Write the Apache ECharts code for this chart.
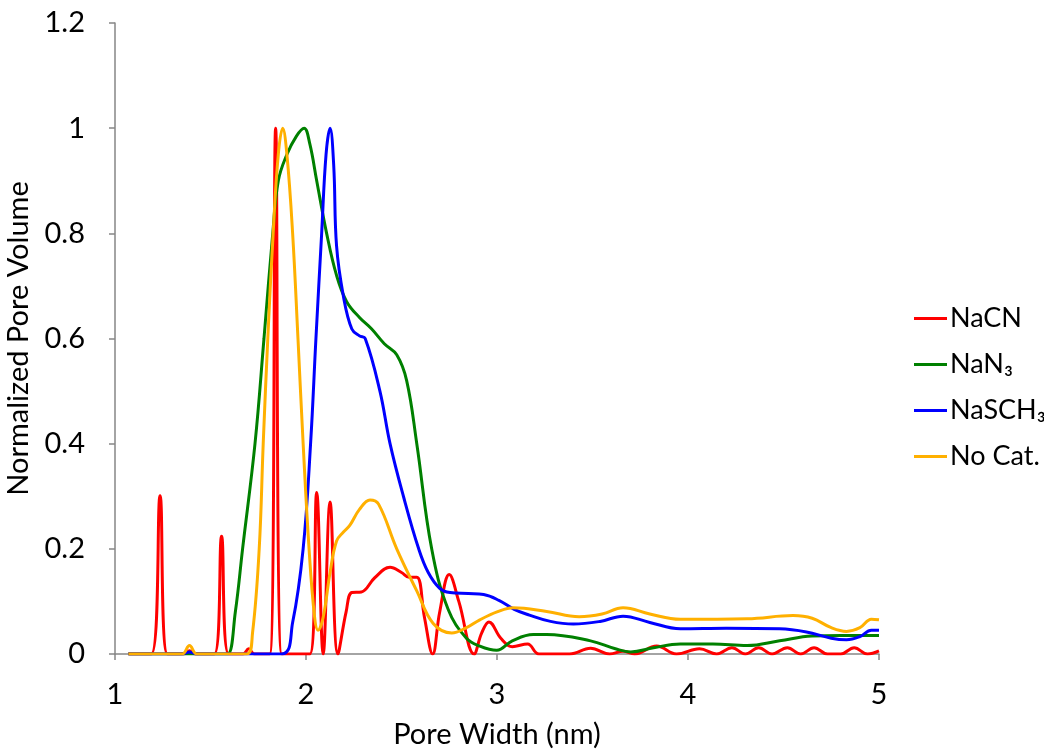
<!DOCTYPE html>
<html lang="en">
<head>
    <meta charset="UTF-8">
    <title>Pore Width Distribution</title>
    <script src="https://cdn.jsdelivr.net/npm/echarts@6/dist/echarts.min.js"></script>
    <style>
        body { margin: 0; background: #fff; }
        #chart { width: 1044px; height: 750px; }
    </style>
</head>
<body>
    <div id="chart"></div>
    <script>
        // data
        const seriesNames = ['NaCN', 'NaN\u2083', 'NaSCH\u2083', 'No Cat.'];
        const xTicks = [1, 2, 3, 4, 5];
        const yTicks = [0, 0.2, 0.4, 0.6, 0.8, 1, 1.2];

        const nacnX = [1.07, 1.19, 1.236, 1.275, 1.36, 1.39, 1.42, 1.52, 1.558, 1.595, 1.67, 1.70, 1.73, 1.81, 1.841, 1.873,
            2.02, 2.056, 2.09, 2.126, 2.167, 2.21, 2.24, 2.29, 2.36, 2.44, 2.50, 2.54, 2.58, 2.62, 2.663, 2.70, 2.75, 2.80,
            2.88, 2.92, 2.958, 3.02, 3.08, 3.16, 3.22, 3.38, 3.49, 3.59, 3.66, 3.72, 3.836, 3.94, 4.06, 4.15, 4.23, 4.30,
            4.37, 4.44, 4.52, 4.59, 4.66, 4.73, 4.80, 4.87, 4.94, 5.0];
        const nacnY = [0, 0, 0.301, 0, 0, 0.006, 0, 0, 0.224, 0, 0, 0.01, 0, 0, 1.0, 0,
            0, 0.307, 0, 0.289, 0, 0.08, 0.117, 0.118, 0.145, 0.165, 0.155, 0.146, 0.146, 0.07, 0, 0.08, 0.151, 0.10,
            0, 0.04, 0.061, 0.03, 0.014, 0.019, 0, 0, 0.011, 0, 0.005, 0, 0.015, 0, 0.01, 0, 0.012, 0,
            0.012, 0, 0.012, 0, 0.012, 0, 0, 0.012, 0, 0.006];

        const nan3X = [1.07, 1.55, 1.59, 1.63, 1.668, 1.733, 1.78, 1.826, 1.855, 1.90, 1.95, 1.99, 2.02, 2.056, 2.108, 2.16,
            2.213, 2.28, 2.344, 2.41, 2.475, 2.527, 2.58, 2.658, 2.744, 2.84, 2.91, 2.998, 3.08, 3.19, 3.26, 3.49, 3.62,
            3.70, 3.82, 3.96, 4.13, 4.31, 4.48, 4.65, 4.80, 5.0];
        const nan3Y = [0, 0, 0, 0.08, 0.2, 0.4, 0.6, 0.8, 0.9, 0.95, 0.985, 1.0, 0.97, 0.9, 0.8, 0.72,
            0.67, 0.64, 0.618, 0.59, 0.569, 0.52, 0.4, 0.2, 0.085, 0.03, 0.015, 0.007, 0.025, 0.037, 0.037, 0.025, 0.01,
            0.004, 0.012, 0.019, 0.019, 0.016, 0.025, 0.034, 0.035, 0.035];

        const nasch3X = [1.07, 1.35, 1.39, 1.43, 1.873, 1.93, 1.985, 2.024, 2.052, 2.082, 2.105, 2.126, 2.145, 2.16, 2.196,
            2.24, 2.28, 2.31, 2.387, 2.44, 2.51, 2.59, 2.64, 2.70, 2.754, 2.85, 2.93, 3.01, 3.09, 3.17, 3.28, 3.40, 3.54,
            3.66, 3.80, 3.96, 4.2, 4.48, 4.62, 4.75, 4.83, 4.9, 4.96, 5.0];
        const nasch3Y = [0, 0, 0.004, 0, 0, 0.06, 0.2, 0.4, 0.6, 0.8, 0.95, 1.0, 0.93, 0.776, 0.68,
            0.618, 0.605, 0.6, 0.5, 0.4, 0.3, 0.2, 0.155, 0.125, 0.117, 0.115, 0.113, 0.102, 0.085, 0.074, 0.062, 0.057, 0.062,
            0.072, 0.06, 0.048, 0.049, 0.048, 0.042, 0.03, 0.027, 0.033, 0.045, 0.045];

        const nocatX = [1.07, 1.35, 1.39, 1.43, 1.69, 1.72, 1.755, 1.776, 1.80, 1.828, 1.855, 1.878, 1.90, 1.93, 1.958, 1.985,
            2.016, 2.045, 2.063, 2.09, 2.126, 2.16, 2.196, 2.23, 2.28, 2.335, 2.38, 2.475, 2.58, 2.666, 2.763, 2.84, 2.91,
            3.0, 3.085, 3.26, 3.43, 3.55, 3.66, 3.80, 3.96, 4.31, 4.55, 4.65, 4.75, 4.83, 4.90, 4.96, 5.0];
        const nocatY = [0, 0, 0.016, 0, 0, 0.04, 0.2, 0.4, 0.6, 0.8, 0.95, 1.0, 0.95, 0.8, 0.6, 0.4,
            0.2, 0.07, 0.045, 0.07, 0.155, 0.215, 0.232, 0.245, 0.275, 0.293, 0.285, 0.2, 0.12, 0.058, 0.04, 0.05, 0.065,
            0.08, 0.088, 0.081, 0.071, 0.076, 0.088, 0.076, 0.066, 0.067, 0.073, 0.068, 0.05, 0.043, 0.05, 0.066, 0.065];

        const colors = ['#ff0000', '#008000', '#0000ff', '#ffb000'];
        const xs = [nacnX, nan3X, nasch3X, nocatX];
        const ys = [nacnY, nan3Y, nasch3Y, nocatY];

        function zip(a, b) {
            return a.map((v, i) => [v, b[i]]);
        }

        const font = 'Lato, "Noto Sans", sans-serif';
        const chart = echarts.init(document.getElementById('chart'));
        chart.setOption({
            animation: false,
            color: colors,
            grid: { left: 115, right: 165, top: 23, bottom: 96, outerBoundsMode: 'none', containLabel: false },
            legend: {
                orient: 'vertical',
                left: 909,
                top: 300,
                icon: 'rect',
                itemWidth: 33,
                itemHeight: 3,
                itemGap: 19,
                data: seriesNames,
                textStyle: { fontFamily: font, fontSize: 27, color: '#000', padding: [0, 0, 0, -2] }
            },
            xAxis: {
                type: 'value',
                min: xTicks[0],
                max: xTicks[xTicks.length - 1],
                interval: 1,
                name: 'Pore Width (nm)',
                nameLocation: 'middle',
                nameGap: 66,
                nameTextStyle: { fontFamily: font, fontSize: 29, color: '#000' },
                axisLine: { lineStyle: { color: '#868686', width: 1.5 } },
                axisTick: { show: true, length: 6, lineStyle: { color: '#868686', width: 1.5 } },
                axisLabel: { fontFamily: font, fontSize: 29, color: '#000', margin: 26 },
                splitLine: { show: false }
            },
            yAxis: {
                type: 'value',
                min: yTicks[0],
                max: yTicks[yTicks.length - 1],
                interval: 0.2,
                name: 'Normalized Pore Volume',
                nameLocation: 'middle',
                nameGap: 80,
                nameTextStyle: { fontFamily: font, fontSize: 29, color: '#000' },
                axisLine: { show: true, lineStyle: { color: '#868686', width: 1.5 } },
                axisTick: { show: true, length: 6, lineStyle: { color: '#868686', width: 1.5 } },
                axisLabel: { fontFamily: font, fontSize: 29, color: '#000', margin: 30 },
                splitLine: { show: false }
            },
            series: seriesNames.map((name, i) => ({
                name: name,
                type: 'line',
                smooth: 0.4,
                symbol: 'none',
                lineStyle: { width: 3, color: colors[i] },
                data: zip(xs[i], ys[i])
            }))
        });
    </script>
</body>
</html>
